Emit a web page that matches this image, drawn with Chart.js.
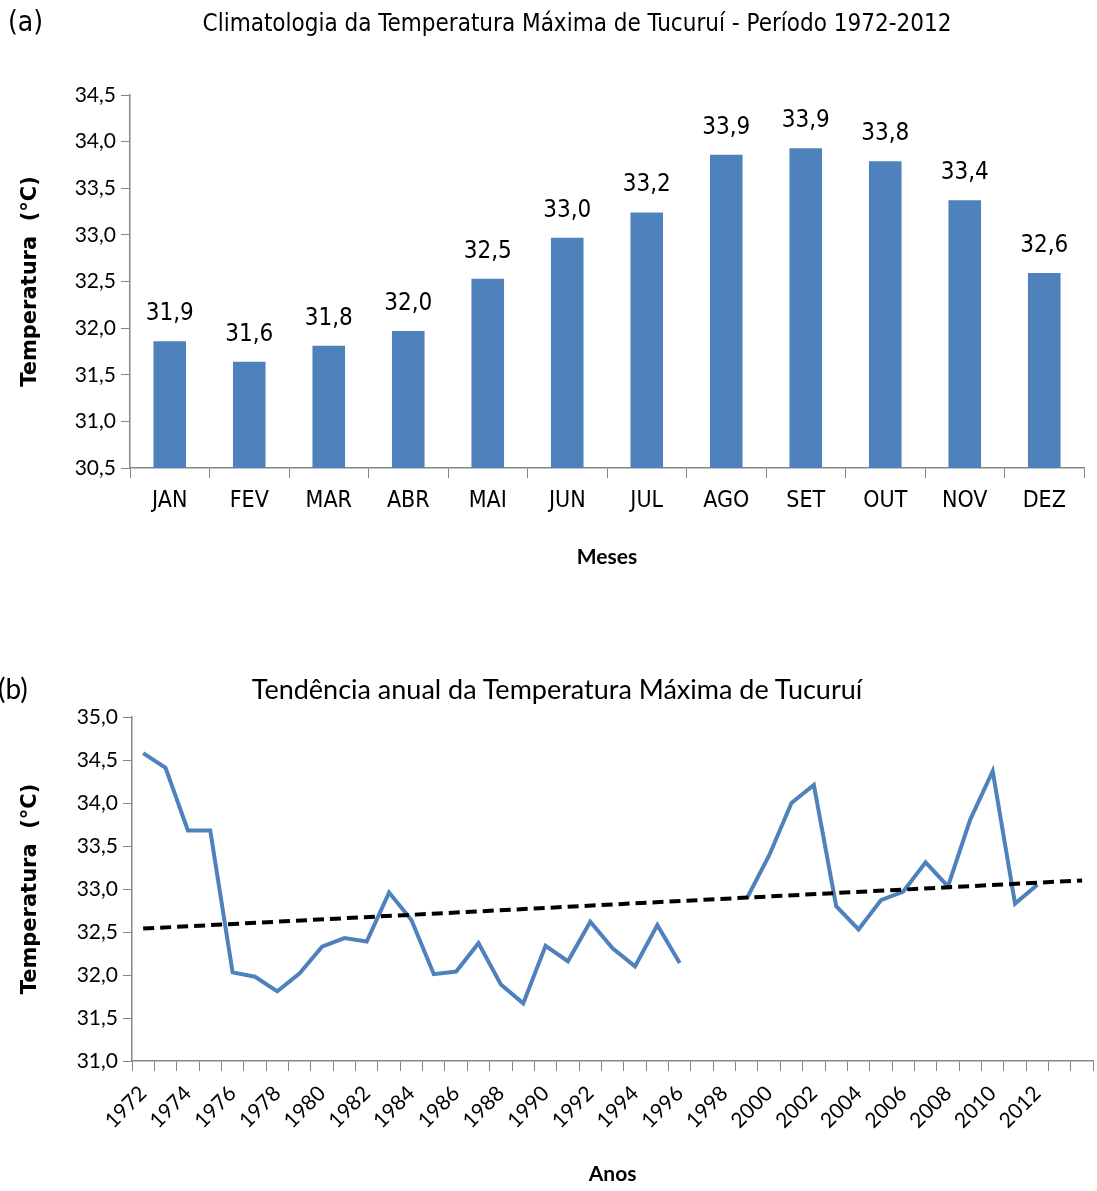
<!DOCTYPE html>
<html lang="pt">
<head>
  <meta charset="UTF-8">
  <title>Temperatura Máxima de Tucuruí</title>
  <style>
    body {
      margin: 0;
      width: 1097px;
      height: 1191px;
      overflow: hidden;
      background: #ffffff;
      position: relative;
      color: #000;
    }
    canvas { position: absolute; left: 0; }
    #c1 { top: 0; }
    #c2 { top: 600px; }
    .txt {
      position: absolute;
      white-space: nowrap;
      z-index: 2;
    }
    #lbl-a { left: 8px; top: 5px; font: 28px "Liberation Sans Narrow", "DejaVu Sans Condensed", sans-serif; }
    #tit-a { left: 577px; top: 9px; transform: translateX(-50%); font: 24px "Liberation Sans Narrow", "DejaVu Sans Condensed", sans-serif; }
    #lbl-b { left: -2px; top: 671px; font: 28px Lato, sans-serif; }
    #tit-b { left: 557px; top: 672px; transform: translateX(-50%); font: 27px Lato, sans-serif; }
  </style>
  <script src="https://cdn.jsdelivr.net/npm/chart.js"></script>
</head>
<body>
  <div class="txt" id="lbl-a">(a)</div>
  <div class="txt" id="tit-a">Climatologia da Temperatura Máxima de Tucuruí - Período 1972-2012</div>
  <canvas id="c1" width="1097" height="600"></canvas>

  <div class="txt" id="lbl-b">(b)</div>
  <div class="txt" id="tit-b">Tendência anual da Temperatura Máxima de Tucuruí</div>
  <canvas id="c2" width="1110" height="591"></canvas>

  <script>
    // dados (a) - climatologia mensal
    const meses = ['JAN', 'FEV', 'MAR', 'ABR', 'MAI', 'JUN', 'JUL', 'AGO', 'SET', 'OUT', 'NOV', 'DEZ'];
    const tempMensal = [31.86, 31.64, 31.81, 31.97, 32.53, 32.97, 33.24, 33.86, 33.93, 33.79, 33.37, 32.59];

    // dados (b) - serie anual
    const anos = ['1972', '1973', '1974', '1975', '1976', '1977', '1978', '1979', '1980', '1981',
                  '1982', '1983', '1984', '1985', '1986', '1987', '1988', '1989', '1990', '1991',
                  '1992', '1993', '1994', '1995', '1996', '1997', '1998', '1999', '2000', '2001',
                  '2002', '2003', '2004', '2005', '2006', '2007', '2008', '2009', '2010', '2011',
                  '2012', '2013', '2014'];
    const tempAnual = [34.58, 34.41, 33.68, 33.68, 32.03, 31.98, 31.81, 32.02, 32.33, 32.43,
                       32.39, 32.96, 32.64, 32.01, 32.04, 32.37, 31.89, 31.67, 32.34, 32.16,
                       32.62, 32.31, 32.10, 32.58, 32.14, null, null, 32.89, 33.39, 34.00,
                       34.21, 32.80, 32.53, 32.87, 32.97, 33.31, 33.03, 33.81, 34.37, 32.83,
                       33.05, null, null];
    // linha de tendencia (inicio e fim)
    const tendAnos = ['1972', '2014'];
    const tendValores = [32.54, 33.10];

    const NARROW = '"Liberation Sans Narrow", "DejaVu Sans Condensed", sans-serif';
    const AXIS = '#868686';
    const AZUL = '#4F81BD';
    const virgula = v => Number(v).toFixed(1).replace('.', ',');

    // rotulos de valor acima das barras
    const rotulos = {
      id: 'rotulos',
      afterDatasetsDraw(chart) {
        const ctx = chart.ctx;
        const meta = chart.getDatasetMeta(0);
        ctx.save();
        ctx.font = '24px ' + NARROW;
        ctx.fillStyle = '#000';
        ctx.textAlign = 'center';
        ctx.textBaseline = 'alphabetic';
        meta.data.forEach((bar, i) => {
          ctx.fillText(virgula(chart.data.datasets[0].data[i]), bar.x, bar.y - 21);
        });
        ctx.restore();
      }
    };

    const tituloY = {
      display: true,
      text: 'Temperatura  (°C)',
      font: { family: '"DejaVu Sans", Verdana, sans-serif', size: 21, weight: 'bold' },
      color: '#000',
      padding: { top: 18, bottom: 0 }
    };

    new Chart(document.getElementById('c1'), {
      type: 'bar',
      data: {
        labels: meses,
        datasets: [{
          data: tempMensal,
          backgroundColor: AZUL,
          barPercentage: 0.41,
          categoryPercentage: 1.0
        }]
      },
      plugins: [rotulos],
      options: {
        responsive: false,
        animation: false,
        devicePixelRatio: 1,
        layout: { padding: { top: 95, right: 13, bottom: 30, left: 0 } },
        plugins: { legend: { display: false }, tooltip: { enabled: false } },
        scales: {
          x: {
            grid: { display: true, drawOnChartArea: false, tickLength: 10, color: AXIS, offset: true },
            border: { color: AXIS, width: 1.5 },
            ticks: { color: '#000', font: { family: NARROW, size: 23 }, padding: 9 },
            title: {
              display: true, text: 'Meses', color: '#000',
              font: { family: 'Lato, sans-serif', size: 21, weight: 'bold' },
              padding: { top: 0, bottom: 0 }
            },
            afterFit(s) { s.height = 102; }
          },
          y: {
            min: 30.5, max: 34.5,
            grid: { display: true, drawOnChartArea: false, tickLength: 9, color: AXIS },
            border: { color: AXIS, width: 1.5 },
            ticks: { stepSize: 0.5, color: '#000', font: { family: 'Lato, sans-serif', size: 21 }, padding: 5, callback: v => virgula(v) },
            title: tituloY,
            afterFit(s) { s.width = 130; }
          }
        }
      }
    });

    new Chart(document.getElementById('c2'), {
      type: 'line',
      data: {
        labels: anos,
        datasets: [
          {
            data: tendAnos.map((a, i) => ({ x: a, y: tendValores[i] })),
            borderColor: '#000',
            borderWidth: 4,
            borderDash: [11, 6],
            pointRadius: 0,
            fill: false
          },
          {
            data: tempAnual,
            borderColor: AZUL,
            borderWidth: 4,
            pointRadius: 0,
            tension: 0,
            spanGaps: false,
            fill: false
          }
        ]
      },
      options: {
        responsive: false,
        animation: false,
        devicePixelRatio: 1,
        layout: { padding: { top: 117, right: 6, bottom: 4, left: 0 } },
        plugins: { legend: { display: false }, tooltip: { enabled: false } },
        scales: {
          x: {
            offset: true,
            grid: { display: true, drawOnChartArea: false, tickLength: 10, color: AXIS, offset: true },
            border: { color: AXIS, width: 1.5 },
            ticks: {
              autoSkip: false, minRotation: 45, maxRotation: 45, padding: 10,
              color: '#000', font: { family: 'Lato, sans-serif', size: 21 },
              callback(v) {
                const ano = parseInt(this.getLabelForValue(v), 10);
                return (ano % 2 === 0 && ano <= 2012) ? String(ano) : '';
              }
            },
            title: {
              display: true, text: 'Anos', color: '#000',
              font: { family: 'Lato, sans-serif', size: 21, weight: 'bold' },
              padding: { top: 0, bottom: 0 }
            },
            afterFit(s) { s.height = 126; }
          },
          y: {
            min: 31, max: 35,
            grid: { display: true, drawOnChartArea: false, tickLength: 9, color: AXIS },
            border: { color: AXIS, width: 1.5 },
            ticks: { stepSize: 0.5, color: '#000', font: { family: 'Lato, sans-serif', size: 21 }, padding: 5, callback: v => virgula(v) },
            title: tituloY,
            afterFit(s) { s.width = 132; }
          }
        }
      }
    });
  </script>
</body>
</html>
